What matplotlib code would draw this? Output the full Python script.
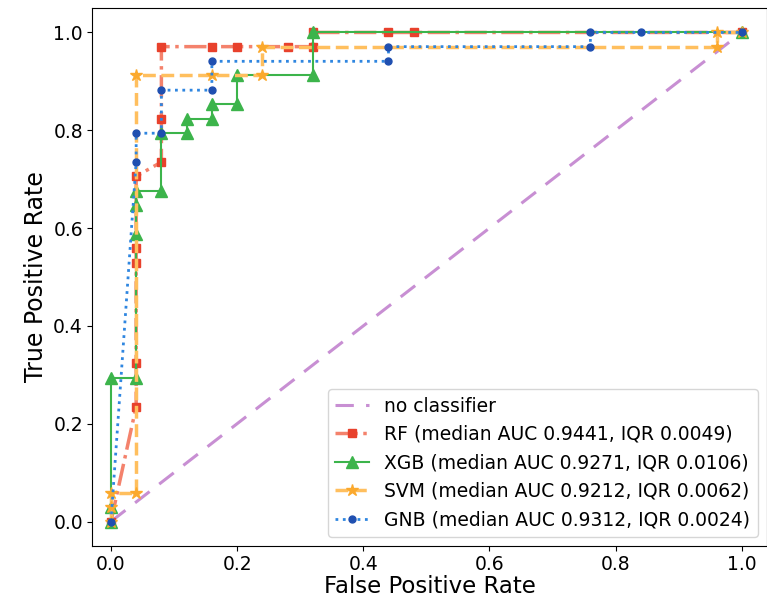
import matplotlib
matplotlib.use("Agg")
import matplotlib.pyplot as plt

# ROC data (FPR, TPR)
diag_x = [0.0, 1.0]
diag_y = [0.0, 1.0]

rf_fpr = [0.0, 0.04, 0.04, 0.04, 0.04, 0.04, 0.08, 0.08, 0.08, 0.16, 0.20, 0.28, 0.32, 0.32, 0.44, 0.48, 1.0]
rf_tpr = [0.0, 0.235, 0.324, 0.529, 0.559, 0.706, 0.735, 0.824, 0.971, 0.971, 0.971, 0.971, 0.971, 1.0, 1.0, 1.0, 1.0]

xgb_fpr = [0.0, 0.0, 0.0, 0.04, 0.04, 0.04, 0.04, 0.08, 0.08, 0.12, 0.12, 0.16, 0.16, 0.20, 0.20, 0.32, 0.32, 1.0]
xgb_tpr = [0.0, 0.029, 0.294, 0.294, 0.588, 0.647, 0.676, 0.676, 0.794, 0.794, 0.824, 0.824, 0.853, 0.853, 0.912, 0.912, 1.0, 1.0]

svm_fpr = [0.0, 0.0, 0.0, 0.04, 0.04, 0.16, 0.24, 0.24, 0.96, 0.96, 1.0]
svm_tpr = [0.0, 0.029, 0.059, 0.059, 0.912, 0.912, 0.912, 0.971, 0.971, 1.0, 1.0]

gnb_fpr = [0.0, 0.04, 0.04, 0.08, 0.08, 0.16, 0.16, 0.44, 0.44, 0.76, 0.76, 0.84, 1.0]
gnb_tpr = [0.0, 0.735, 0.794, 0.794, 0.882, 0.882, 0.941, 0.941, 0.971, 0.971, 1.0, 1.0, 1.0]

labels = ["no classifier",
          "RF (median AUC 0.9441, IQR 0.0049)",
          "XGB (median AUC 0.9271, IQR 0.0106)",
          "SVM (median AUC 0.9212, IQR 0.0062)",
          "GNB (median AUC 0.9312, IQR 0.0024)"]

xticks = [0.0, 0.2, 0.4, 0.6, 0.8, 1.0]
yticks = [0.0, 0.2, 0.4, 0.6, 0.8, 1.0]

fig = plt.figure(figsize=(7.67, 6.03), dpi=100)
ax = fig.add_axes([92 / 767, 1 - 546 / 603, (767 - 92) / 767, (546 - 8) / 603])

ax.plot(diag_x, diag_y, linestyle=(0, (6, 4)), color="#c88fd3", lw=2.2, label=labels[0])
ax.plot(rf_fpr, rf_tpr, linestyle="-.", color="#f4826c", lw=2.5, marker="s", ms=6,
        mfc="#e8412c", mec="#e8412c", label=labels[1])
ax.plot(xgb_fpr, xgb_tpr, linestyle="-", color="#3cb44b", lw=1.5, marker="^", ms=8,
        mfc="#3cb44b", mec="#3cb44b", label=labels[2])
ax.plot(svm_fpr, svm_tpr, linestyle="--", color="#ffbf5e", lw=2.5, marker="*", ms=9,
        mfc="#fba92d", mec="#fba92d", label=labels[3])
ax.plot(gnb_fpr, gnb_tpr, linestyle=":", color="#2f86e0", lw=2.0, marker="o", ms=5,
        mfc="#1f4fb0", mec="#1f4fb0", label=labels[4])

ax.set_xlim(-0.03, 1.04)
ax.set_ylim(-0.05, 1.05)
ax.set_xticks(xticks)
ax.set_yticks(yticks)
ax.tick_params(labelsize=13.5, pad=3)
ax.set_xlabel("False Positive Rate", fontsize=16.5, labelpad=1)
ax.set_ylabel("True Positive Rate", fontsize=17)
ax.legend(loc="lower right", fontsize=13.5, handlelength=1.8)

fig.savefig("out.png", dpi=100)
